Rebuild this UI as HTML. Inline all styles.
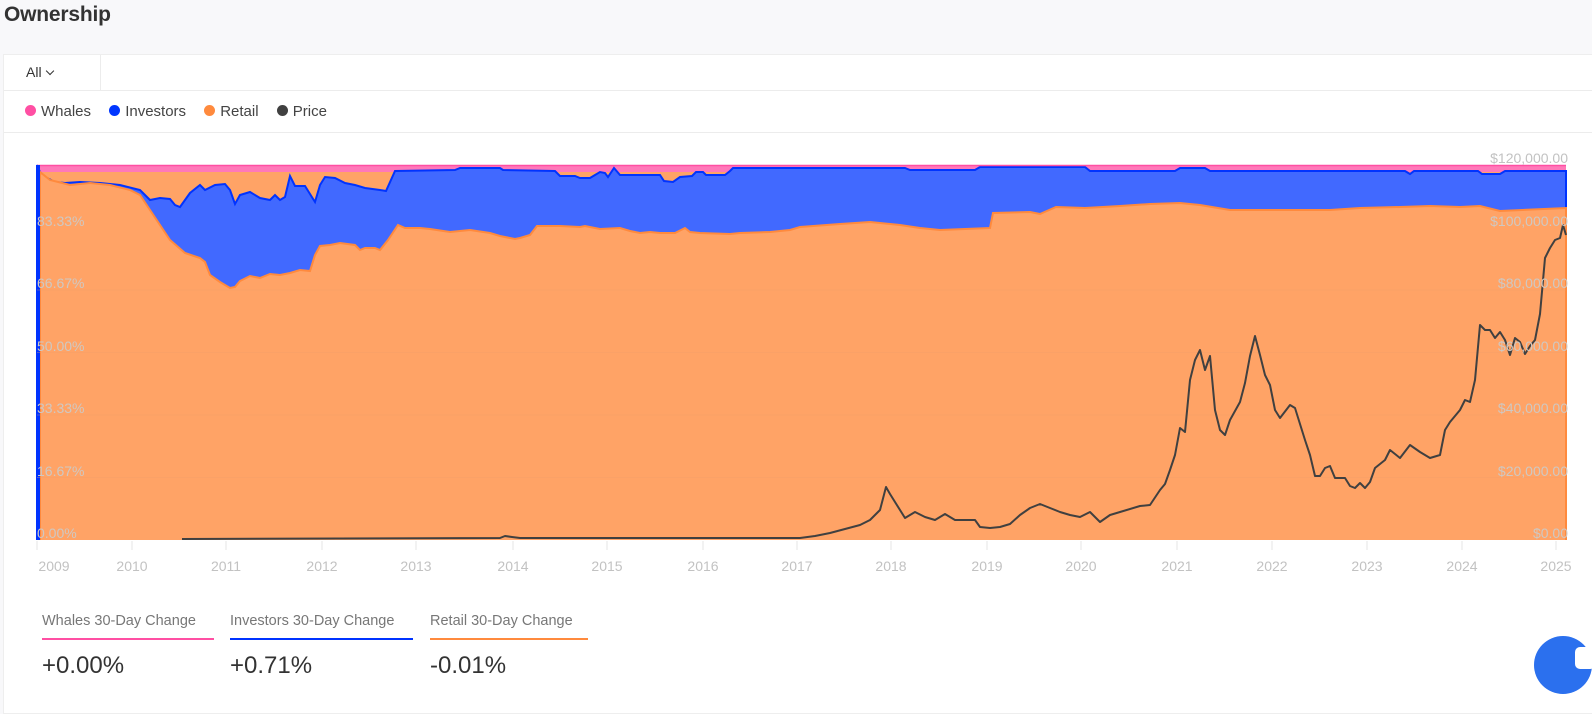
<!DOCTYPE html>
<html><head><meta charset="utf-8"><style>
*{margin:0;padding:0;box-sizing:border-box}
body{width:1592px;height:701px;background:#f8f8fa;font-family:"Liberation Sans",sans-serif;position:relative;overflow:hidden}
.t{position:absolute;left:4px;top:3px;font-size:21px;color:#333;font-weight:600;letter-spacing:-0.2px}
.card{position:absolute;left:3px;top:54px;width:1600px;height:660px;background:#fff;border:1px solid #eee}
.abs{position:absolute}
</style></head><body>
<div class="t">Ownership</div>
<div class="card"></div>
<div class="abs" style="left:4px;top:90px;width:1590px;height:1px;background:#ececec"></div>
<div class="abs" style="left:4px;top:132px;width:1590px;height:1px;background:#ececec"></div>
<div class="abs" style="left:100px;top:55px;width:1px;height:35px;background:#ececec"></div>
<div class="abs" style="left:26px;top:64px;font-size:14px;color:#333">All<span style="display:inline-block;width:6px;height:6px;border-right:1.5px solid #333;border-bottom:1.5px solid #333;transform:rotate(45deg);margin-left:5px;position:relative;top:-3px"></span></div>
<div class="abs" style="left:25px;top:103px;font-size:15px;color:#444;white-space:nowrap">
<span style="display:inline-block;width:11px;height:11px;border-radius:50%;background:#ff4fa3;margin-right:5px"></span>Whales
<span style="display:inline-block;width:11px;height:11px;border-radius:50%;background:#0036ff;margin:0 5px 0 14px"></span>Investors
<span style="display:inline-block;width:11px;height:11px;border-radius:50%;background:#ff8a3d;margin:0 5px 0 14px"></span>Retail
<span style="display:inline-block;width:11px;height:11px;border-radius:50%;background:#404040;margin:0 5px 0 14px"></span>Price</div>
<svg class="abs" style="left:0;top:0" width="1592" height="701">
<rect x="37" y="165" width="1529" height="375" fill="#ffa366"/>
<polygon fill="#ff78b9" stroke="none" points="37,165 1566,165 1566,172 1480,172 37,172"/>
<polyline fill="#4169ff" stroke="#0033ff" stroke-width="2" points="37,540 37,165 40,172 45,177 55,182 65,183 80,182 100,183 120,185 140,190 145,195 150,200 160,198 170,199 175,205 180,207 185,200 190,193 200,185 205,190 215,185 225,184 230,190 235,204 240,195 250,192 260,198 270,200 275,195 280,200 285,197 290,176 295,186 305,186 315,202 320,185 325,177 335,178 345,183 355,185 365,188 380,190 386,191 395,171 455,170 460,168 500,168 503,170 555,171 560,176 575,176 580,178 590,178 595,175 600,172 605,173 608,177 614,168 620,175 660,175 664,181 673,182 680,177 692,176 696,172 703,172 706,175 725,175 730,171 733,168 905,168 910,170 975,170 980,167 1085,167 1090,171 1105,171 1175,171 1180,168 1205,168 1210,171 1405,171 1410,174 1414,171 1478,171 1482,174 1500,174 1505,171 1566,171 1566,540"/>
<line x1="37" y1="165.5" x2="1566" y2="165.5" stroke="#ff4fa3" stroke-width="1.5"/>
<polyline fill="#ffa366" stroke="#ff8a3d" stroke-width="2" points="40,540 40,172 50,180 70,185 90,183 110,185 130,190 140,195 150,210 160,225 170,240 185,253 200,258 205,262 210,275 220,282 230,288 235,287 240,281 250,276 260,278 270,274 280,275 290,273 300,270 310,271 315,255 320,246 330,245 340,243 355,245 360,250 365,248 375,248 380,250 388,240 398,225 405,228 420,228 430,229 450,232 470,230 490,233 500,236 515,239 520,238 530,235 537,226 560,226 580,227 585,226 600,229 620,228 630,231 640,233 650,232 660,233 675,233 685,228 690,232 700,233 730,234 740,233 770,232 790,230 800,227 840,224 870,222 900,225 920,228 940,230 990,228 993,213 1030,212 1040,214 1056,207 1085,208 1120,206 1150,204 1180,203 1200,205 1230,210 1270,210 1300,210 1330,210 1360,208 1400,207 1430,206 1460,207 1480,206 1500,211 1566,208 1566,540"/>
<rect x="37" y="165" width="3" height="375" fill="#0033ff"/>
<g stroke="#f3a06a" stroke-width="1" opacity="0.35"><line x1="37" y1="290" x2="1566" y2="290"/><line x1="37" y1="352.5" x2="1566" y2="352.5"/><line x1="37" y1="415" x2="1566" y2="415"/><line x1="37" y1="477.5" x2="1566" y2="477.5"/></g>
<polyline fill="none" stroke="#404040" stroke-width="2" stroke-linejoin="round" points="182,539 500,538 505,536 512,537 520,538 800,538 815,536 830,533 845,529 860,525 870,520 880,510 886,487 890,494 900,510 905,518 915,512 925,517 935,520 945,514 955,520 975,520 980,527 990,528 1000,527 1010,524 1020,515 1030,508 1040,504 1050,508 1060,512 1070,515 1080,517 1090,512 1100,522 1110,515 1120,512 1140,506 1150,505 1160,490 1165,484 1170,470 1175,455 1180,428 1185,432 1190,380 1195,360 1200,350 1205,370 1210,356 1215,410 1220,430 1225,435 1230,420 1240,402 1245,383 1250,356 1255,336 1260,355 1265,375 1270,385 1275,410 1280,418 1290,405 1295,408 1305,440 1310,455 1315,476 1320,476 1325,468 1330,466 1335,478 1345,478 1350,486 1355,488 1360,483 1365,488 1370,482 1375,468 1380,464 1385,460 1390,450 1400,458 1410,445 1420,452 1430,458 1440,455 1445,430 1450,422 1460,410 1465,400 1470,402 1475,380 1480,325 1485,330 1490,330 1495,338 1500,332 1505,340 1510,355 1515,338 1520,342 1525,354 1530,346 1535,340 1540,314 1545,258 1550,248 1555,240 1560,238 1563,225 1566,235"/>
<g font-size="14" fill="#cfc8c2" font-family="Liberation Sans,sans-serif">
<text x="37" y="226">83.33%</text><text x="37" y="288">66.67%</text><text x="37" y="351">50.00%</text><text x="37" y="413">33.33%</text><text x="37" y="476">16.67%</text><text x="37" y="538">0.00%</text>
<g text-anchor="end"><text x="1568" y="163" fill="#c2c2c2">$120,000.00</text><text x="1568" y="226">$100,000.00</text><text x="1568" y="288">$80,000.00</text><text x="1568" y="351">$60,000.00</text><text x="1568" y="413">$40,000.00</text><text x="1568" y="476">$20,000.00</text><text x="1568" y="538">$0.00</text></g>
<g text-anchor="middle" fill="#c2c2c2"><text x="54" y="571">2009</text><text x="132" y="571">2010</text><text x="226" y="571">2011</text><text x="322" y="571">2012</text><text x="416" y="571">2013</text><text x="513" y="571">2014</text><text x="607" y="571">2015</text><text x="703" y="571">2016</text><text x="797" y="571">2017</text><text x="891" y="571">2018</text><text x="987" y="571">2019</text><text x="1081" y="571">2020</text><text x="1177" y="571">2021</text><text x="1272" y="571">2022</text><text x="1367" y="571">2023</text><text x="1462" y="571">2024</text><text x="1556" y="571">2025</text></g>
</g>
<g stroke="#e6e6e6"><line x1="37" y1="541" x2="37" y2="550"/><line x1="132" y1="541" x2="132" y2="550"/><line x1="226" y1="541" x2="226" y2="550"/><line x1="322" y1="541" x2="322" y2="550"/><line x1="416" y1="541" x2="416" y2="550"/><line x1="513" y1="541" x2="513" y2="550"/><line x1="607" y1="541" x2="607" y2="550"/><line x1="703" y1="541" x2="703" y2="550"/><line x1="797" y1="541" x2="797" y2="550"/><line x1="891" y1="541" x2="891" y2="550"/><line x1="987" y1="541" x2="987" y2="550"/><line x1="1081" y1="541" x2="1081" y2="550"/><line x1="1177" y1="541" x2="1177" y2="550"/><line x1="1272" y1="541" x2="1272" y2="550"/><line x1="1367" y1="541" x2="1367" y2="550"/><line x1="1462" y1="541" x2="1462" y2="550"/><line x1="1556" y1="541" x2="1556" y2="550"/></g>
<g font-size="14.5" fill="#777" font-family="Liberation Sans,sans-serif"><text x="42" y="625">Whales 30-Day Change</text><text x="230" y="625">Investors 30-Day Change</text><text x="430" y="625">Retail 30-Day Change</text></g>
<rect x="42" y="638" width="172" height="2" fill="#ff4fa3"/><rect x="230" y="638" width="183" height="2" fill="#0033ff"/><rect x="430" y="638" width="158" height="2" fill="#ff8a3d"/>
<g font-size="24" fill="#333" font-family="Liberation Sans,sans-serif"><text x="42" y="673">+0.00%</text><text x="230" y="673">+0.71%</text><text x="430" y="673">-0.01%</text></g>
<circle cx="1563" cy="665" r="29" fill="#2b70ee"/>
<rect x="1575" y="647" width="20" height="22" rx="5" fill="#fff"/>
</svg>
</body></html>
